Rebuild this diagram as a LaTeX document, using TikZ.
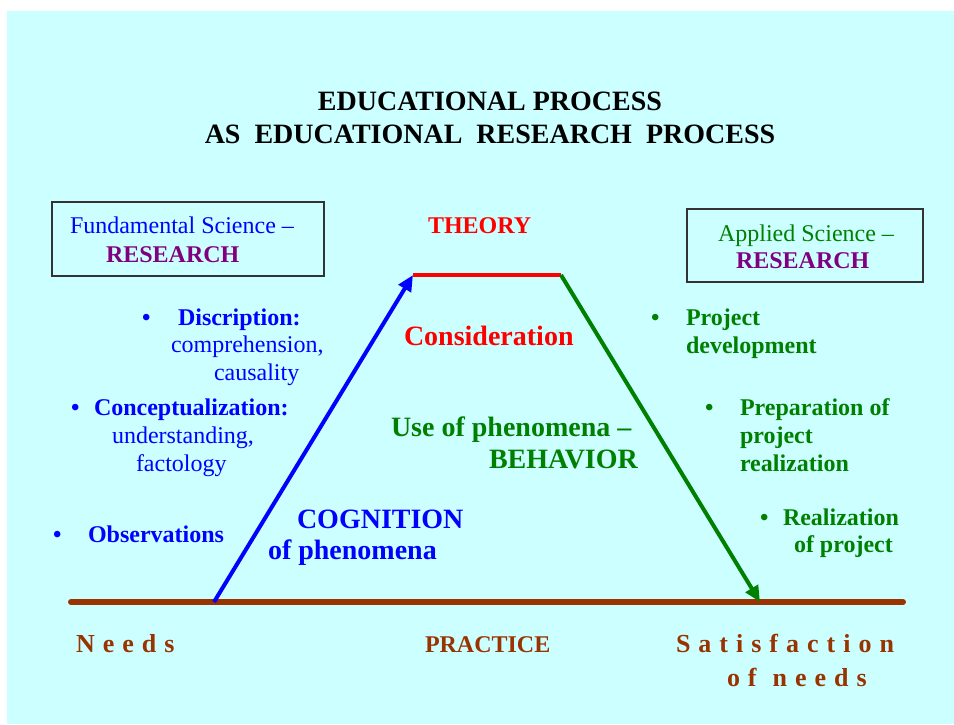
\documentclass[tikz,border=0pt]{standalone}
\usepackage{fontspec}
\setmainfont{Liberation Serif}
\usetikzlibrary{positioning,arrows.meta}

\definecolor{bgcyan}{HTML}{CCFFFF}
\definecolor{cogblue}{HTML}{0000FF}
\definecolor{theored}{HTML}{FF0000}
\definecolor{usegreen}{HTML}{008000}
\definecolor{respurple}{HTML}{800080}
\definecolor{pracbrown}{HTML}{993300}
\definecolor{boxgray}{HTML}{333333}

\newcommand{\sized}[1]{\fontsize{#1}{#1}\selectfont}
% letter spaced words for the bottom labels
\newcommand{\spreadword}[1]{\spreadletters#1\endspread}
\def\spreadletters#1#2\endspread{#1\ifx\relax#2\relax\else\hspace{8pt}\spreadletters#2\endspread\fi}

\begin{document}
\begin{tikzpicture}[x=1pt,y=-1pt,>={Triangle[length=16pt,width=14pt]},line width=4pt]
    \tikzstyle{every node}=[inner sep=0pt,anchor=base west,font=\sized{24}]
    \tikzstyle{bold}=[font=\bfseries\sized{24}]
    \tikzstyle{big}=[font=\bfseries\sized{28}]
    \tikzstyle{spaced}=[pracbrown,font=\bfseries\sized{26}]
    \tikzstyle{science box}=[draw=boxgray,line width=1.5pt,anchor=center]
    \tikzstyle{phase}=[->]

    \useasboundingbox (0,0) rectangle (954,724);
    \fill[bgcyan] (7,11) rectangle (954,724);

    \node[anchor=base,align=center,font=\bfseries\fontsize{28}{33}\selectfont] (title) at (490,143)
        {EDUCATIONAL PROCESS\\AS\ \ EDUCATIONAL\ \ RESEARCH\ \ PROCESS};

    % research boxes
    \node[science box,minimum width=272pt,minimum height=74pt] (fund box) at (188,239) {};
    \node[cogblue] (fund) at (68,233) {Fundamental Science –};
    \node[bold,respurple] (fund res) at (104,262) {RESEARCH};
    \node[science box,minimum width=236pt,minimum height=73pt] (appl box) at (805,245.5) {};
    \node[usegreen] (appl) at (716,241) {Applied Science –};
    \node[bold,respurple] (appl res) at (734,268) {RESEARCH};

    % the process line
    \coordinate (line L) at (71,602);
    \coordinate (line R) at (903,602);
    \coordinate (base L) at (214,602);
    \coordinate (top L) at (413,275);
    \coordinate (top R) at (561,275);
    \coordinate (base R) at (760,602);

    \draw[pracbrown,line width=6pt,line cap=round] (line L) -- (line R);
    \draw[theored] (top L) -- (top R);
    \path
    (base L) edge [phase,cogblue] (top L)
    (top R) edge [phase,usegreen] (base R);

    \node[bold,theored] (theory) at (426,233) {THEORY};
    \node[big,theored] (consid) at (402,345) {Consideration};
    \node[big,usegreen] (use) at (389,436) {Use of phenomena –};
    \node[big,usegreen] (behav) at (487,468) {BEHAVIOR};
    \node[big,cogblue] (cogn) at (295,528) {COGNITION};
    \node[big,cogblue] (cogn of) at (266,559) {of phenomena};

    % fundamental side
    \node[bold,cogblue] (b descr) at (140,325) {•};
    \node[bold,cogblue] (descr) at (176,325) {Discription:};
    \node[cogblue] (descr a) at (169,352) {comprehension,};
    \node[cogblue] (descr b) at (212,380) {causality};
    \node[bold,cogblue] (b concept) at (69,415) {•};
    \node[bold,cogblue] (concept) at (92,415) {Conceptualization:};
    \node[cogblue] (concept a) at (110,443) {understanding,};
    \node[cogblue] (concept b) at (134,471) {factology};
    \node[bold,cogblue] (b obs) at (51,542) {•};
    \node[bold,cogblue] (obs) at (86,542) {Observations};

    % applied side
    \node[bold,usegreen] (b proj) at (649,325) {•};
    \node[bold,usegreen] (proj) at (684,325) {Project};
    \node[bold,usegreen] (proj a) at (684,353) {development};
    \node[bold,usegreen] (b prep) at (703,415) {•};
    \node[bold,usegreen] (prep) at (738,415) {Preparation of};
    \node[bold,usegreen] (prep a) at (738,443) {project};
    \node[bold,usegreen] (prep b) at (738,471) {realization};
    \node[bold,usegreen] (b real) at (758,525) {•};
    \node[bold,usegreen] (real) at (781,525) {Realization};
    \node[bold,usegreen] (real a) at (792,552) {of project};

    % practice labels
    \node[spaced] (needs) at (74,652) {\spreadword{Needs}};
    \node[bold,pracbrown] (practice) at (423,652) {PRACTICE};
    \node[spaced] (satisf) at (674,652) {\spreadword{Satisfaction}};
    \node[spaced] (satisf of) at (725,686) {\spreadword{of}\hspace{16pt}\spreadword{needs}};
\end{tikzpicture}
\end{document}
